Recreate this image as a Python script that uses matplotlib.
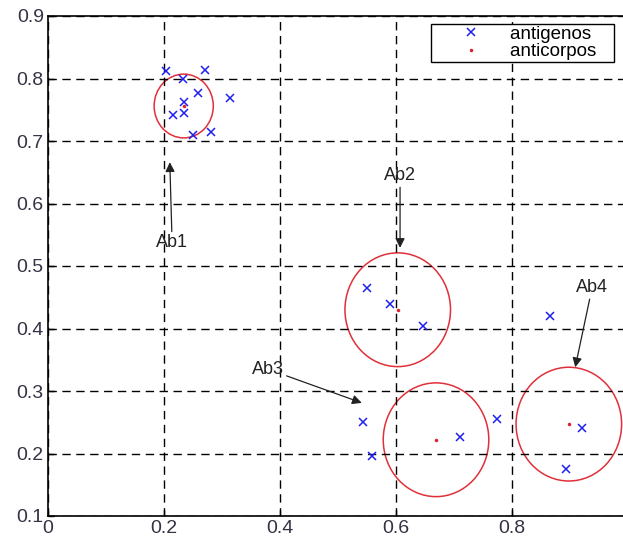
import numpy as np
import matplotlib
matplotlib.use('Agg')
import matplotlib.pyplot as plt
from matplotlib.patches import Ellipse

plt.rcParams['font.family'] = ['Liberation Sans', 'DejaVu Sans']

# antigen positions
ag_x = [0.203, 0.233, 0.271, 0.259, 0.234, 0.314, 0.216, 0.234, 0.250, 0.281,
        0.550, 0.590, 0.647, 0.543, 0.559, 0.710, 0.774, 0.866, 0.921, 0.893]
ag_y = [0.812, 0.799, 0.814, 0.777, 0.762, 0.769, 0.742, 0.745, 0.710, 0.714,
        0.465, 0.439, 0.404, 0.250, 0.196, 0.226, 0.255, 0.420, 0.241, 0.175]

# antibody centres and radii
ab_x = [0.234, 0.603, 0.669, 0.898]
ab_y = [0.756, 0.430, 0.222, 0.247]
ab_r = [0.051, 0.091, 0.091, 0.091]
ab_names = ['Ab1', 'Ab2', 'Ab3', 'Ab4']

# label text positions and arrow heads
lbl_x = [0.214, 0.607, 0.379, 0.938]
lbl_y = [0.537, 0.644, 0.335, 0.465]
head_x = [0.210, 0.607, 0.541, 0.909]
head_y = [0.666, 0.529, 0.281, 0.338]

fig = plt.figure(figsize=(6.23, 5.41), dpi=100)
ax = fig.add_axes([48/623, 25/541, 580/623, 500/541])

ax.plot(ag_x, ag_y, 'x', color='#2020ee', markersize=6, mew=1.1, label='antigenos   ')
ax.plot(ab_x, ab_y, '.', color='#e02030', markersize=3, label='anticorpos   ')

for cx, cy, r in zip(ab_x, ab_y, ab_r):
    ax.add_patch(Ellipse((cx, cy), 2*r, 2*r, fill=False, ec='#e0303a', lw=1.1))

for name, tx, ty, hx, hy in zip(ab_names, lbl_x, lbl_y, head_x, head_y):
    ax.annotate(name, xy=(hx, hy), xytext=(tx, ty), fontsize=13, ha='center', va='center',
                color='#222222',
                arrowprops=dict(arrowstyle='-|>', color='#222222', lw=0.9,
                                mutation_scale=14, shrinkA=0, shrinkB=0))

ax.set_xlim(0, 1)
ax.set_ylim(0.1, 0.9)
ax.set_xticks([0, 0.2, 0.4, 0.6, 0.8, 1.0])
ax.set_xticklabels(['0', '0.2', '0.4', '0.6', '0.8', ''])
ax.set_yticks([0.1, 0.2, 0.3, 0.4, 0.5, 0.6, 0.7, 0.8, 0.9])
ax.set_yticklabels(['0.1', '0.2', '0.3', '0.4', '0.5', '0.6', '0.7', '0.8', '0.9'])
ax.tick_params(direction='in', length=4, width=1, labelsize=14, colors='k',
               labelcolor='#333344', pad=3)
ax.grid(True, color='k', linestyle=(0, (6, 4)), linewidth=1)
for s in ax.spines.values():
    s.set_linewidth(1.2)
    s.set_color('k')

leg = ax.legend(loc='upper right', bbox_to_anchor=(614/623, 1 - 24/541),
                bbox_transform=fig.transFigure, fontsize=13.5, fancybox=False,
                framealpha=1, edgecolor='k', borderpad=0.1, handlelength=4.0,
                handletextpad=0.1, labelspacing=0.0, borderaxespad=0)
leg.get_frame().set_linewidth(1)

fig.savefig('out.png', dpi=100)
